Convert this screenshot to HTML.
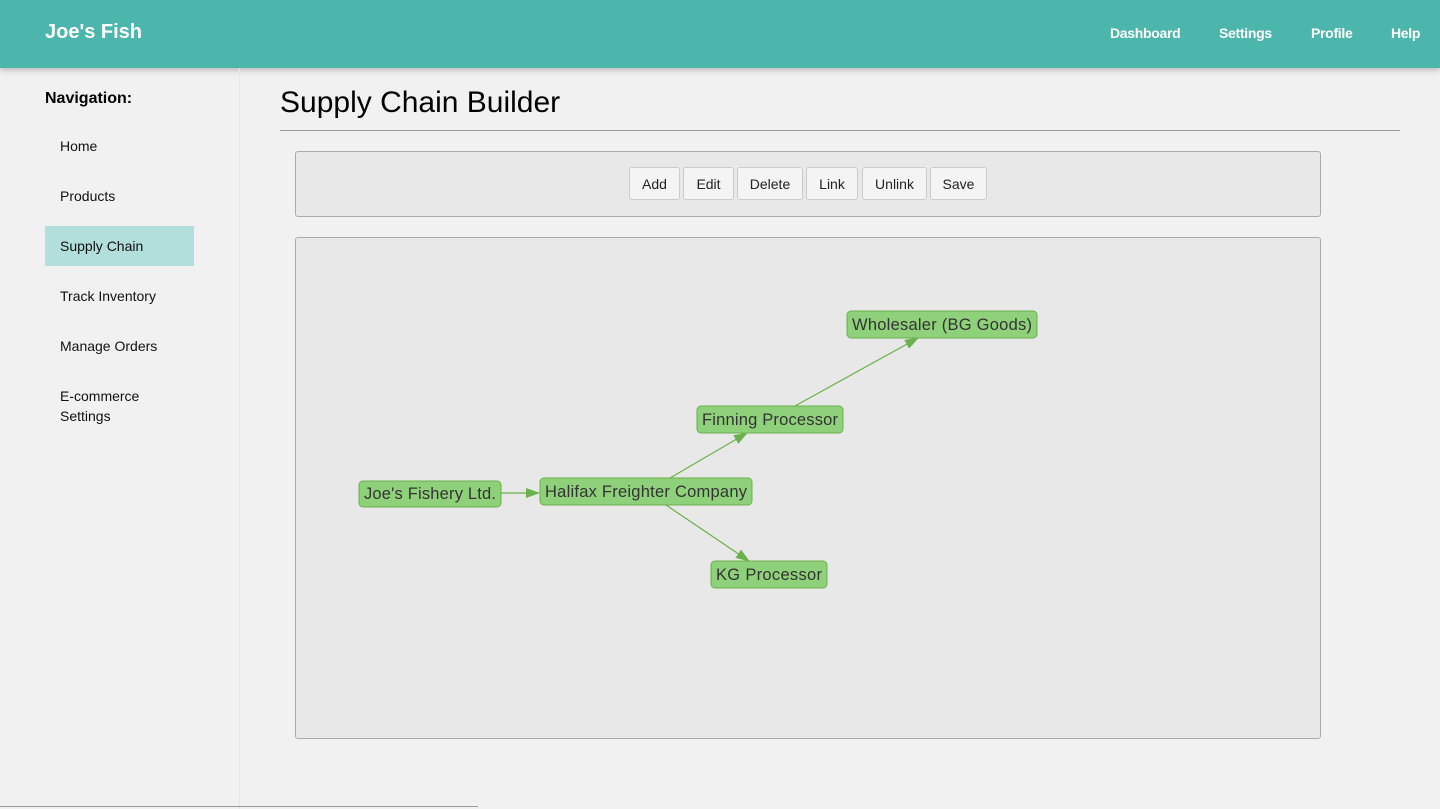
<!DOCTYPE html>
<html><head><style>
body{margin:0;width:1440px;height:809px;background:#f1f1f1;font-family:"Liberation Sans",sans-serif;position:relative;overflow:hidden}
.top{position:absolute;left:0;top:0;width:1440px;height:68px;background:#4db6ac;box-shadow:0 2px 6px rgba(0,0,0,.25)}
.brand{position:absolute;left:45px;top:21px;color:#fff;font-size:20px;font-weight:bold}
.nav a{position:absolute;top:25px;color:#fff;font-size:14px;font-weight:bold;letter-spacing:-0.3px}
.side{position:absolute;left:0;top:68px;width:239px;height:741px;border-right:1px solid #e6e6e6}
.nh{position:absolute;left:45px;top:90px;font-size:16px;font-weight:bold}
.item{position:absolute;left:45px;width:149px;padding-left:15px;font-size:14px;color:#111;box-sizing:border-box}
.act{background:#b2dfdb;height:40px;top:226px;line-height:40px}
h1{position:absolute;left:280px;top:86px;margin:0;font-weight:normal;font-size:30px}
.rule{position:absolute;left:280px;top:130px;width:1120px;border-top:1px solid #999}
.panel{position:absolute;left:295px;width:1024px;background:#e8e8e8;border:1px solid #aaa;border-radius:3px}
.btn{position:absolute;top:167px;height:33px;line-height:33px;text-align:center;background:#f4f4f4;border:1px solid #ccc;border-radius:3px;font-size:14px;color:#222;box-sizing:border-box}
</style></head><body>
<div class="top"><div class="brand">Joe's Fish</div>
<div class="nav"><a style="left:1110px">Dashboard</a><a style="left:1219px">Settings</a><a style="left:1311px">Profile</a><a style="left:1391px">Help</a></div></div>
<div class="side"></div>
<div class="nh">Navigation:</div>
<div class="item" style="top:138px">Home</div>
<div class="item" style="top:188px">Products</div>
<div class="item act">Supply Chain</div>
<div class="item" style="top:288px">Track Inventory</div>
<div class="item" style="top:338px">Manage Orders</div>
<div class="item" style="top:386px;line-height:20px">E-commerce<br>Settings</div>
<h1>Supply Chain Builder</h1>
<div class="rule"></div>
<div class="panel" style="top:151px;height:64px"></div>
<div class="btn" style="left:629px;width:51px">Add</div>
<div class="btn" style="left:683px;width:51px">Edit</div>
<div class="btn" style="left:737px;width:66px">Delete</div>
<div class="btn" style="left:806px;width:52px">Link</div>
<div class="btn" style="left:862px;width:65px">Unlink</div>
<div class="btn" style="left:930px;width:57px">Save</div>
<div class="panel" style="top:237px;height:500px"></div>
<svg style="position:absolute;left:0;top:0" width="1440" height="809">
<defs><marker id="a" markerWidth="14" markerHeight="10" refX="13" refY="5" orient="auto" markerUnits="userSpaceOnUse"><path d="M0,0L14,5L0,10z" fill="#6ab04c"/></marker></defs>
<g stroke="#6ab04c" stroke-width="1.2" fill="none">
<line x1="501" y1="493" x2="539" y2="493" marker-end="url(#a)"/>
<line x1="670" y1="478" x2="747" y2="433" marker-end="url(#a)"/>
<line x1="795" y1="406" x2="918" y2="338" marker-end="url(#a)"/>
<line x1="666" y1="505" x2="749" y2="561" marker-end="url(#a)"/>
</g>
<g fill="#8fd17a" stroke="#6ab04c" stroke-width="1">
<rect x="359" y="481" width="142" height="26" rx="4"/>
<rect x="540" y="478" width="212" height="27" rx="4"/>
<rect x="697" y="406" width="146" height="27" rx="4"/>
<rect x="847" y="311" width="190" height="27" rx="4"/>
<rect x="711" y="561" width="116" height="27" rx="4"/>
</g>
<g font-family="Liberation Sans,sans-serif" font-size="16.5" fill="#333" text-anchor="middle">
<text x="430" y="499" textLength="132">Joe's Fishery Ltd.</text>
<text x="646" y="497" textLength="202">Halifax Freighter Company</text>
<text x="770" y="425" textLength="136">Finning Processor</text>
<text x="942" y="330" textLength="180">Wholesaler (BG Goods)</text>
<text x="769" y="580" textLength="106">KG Processor</text>
</g>
<line x1="0" y1="806.5" x2="478" y2="806.5" stroke="#999"/>
</svg>
</body></html>
